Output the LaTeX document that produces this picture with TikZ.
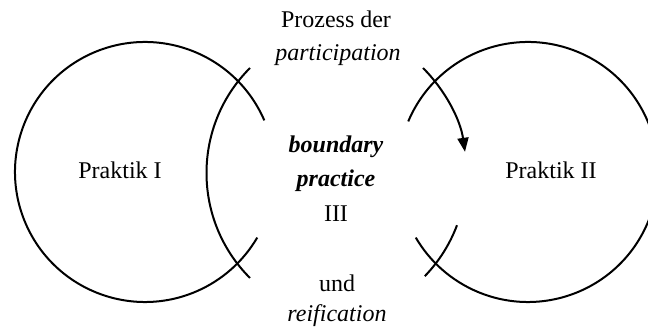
\documentclass[tikz,border=0pt]{standalone}
\usepackage{fontspec}
\setmainfont{Liberation Serif}
\usetikzlibrary{arrows.meta}
\begin{document}
\begin{tikzpicture}[x=1pt,y=1pt,
  rim/.style={line width=2pt,black},
  label/.style={font=\fontsize{24}{28}\selectfont,anchor=base,inner sep=0pt}]
  \useasboundingbox (0,0) rectangle (648,328);
  \clip (0,0) rectangle (648,328);
  % centres of the two practices and of the two boundary arcs
  \coordinate (cI)  at (145,156);
  \coordinate (cII) at (528,156);
  \coordinate (bL)  at (355,155);
  \coordinate (bR)  at (318,155);

  % Praktik I and Praktik II, each open towards the middle
  \draw[rim] ([shift={(23.4:130)}]cI) arc[start angle=23.4, end angle=329.7, radius=130];
  \draw[rim] ([shift={(157.1:130)}]cII) arc[start angle=157.1, end angle=-149.7, radius=130];

  % boundary arcs crossing the openings
  \draw[rim] ([shift={(135:148.5)}]bL) arc[start angle=135, end angle=225, radius=148.5];
  \draw[rim,-{Triangle[length=14pt,width=11pt]}]
    ([shift={(45:148.5)}]bR) arc[start angle=45, end angle=8.2, radius=148.5];
  \draw[rim] ([shift={(-20.6:148.5)}]bR) arc[start angle=-20.6, end angle=-44, radius=148.5];

  % labels
  \node[label] (p1)   at (120,149) {Praktik I};
  \node[label] (p2)   at (551,149) {Praktik II};
  \node[label] (proz) at (336,300) {Prozess der};
  \node[label] (part) at (338,267) {\itshape participation};
  \node[label] (bnd)  at (336,175) {\bfseries\itshape boundary};
  \node[label] (prac) at (336,141) {\bfseries\itshape practice};
  \node[label] (iii)  at (336,106) {III};
  \node[label] (und)  at (337,36)  {und};
  \node[label] (reif) at (337,6)   {\itshape reification};
\end{tikzpicture}
\end{document}
